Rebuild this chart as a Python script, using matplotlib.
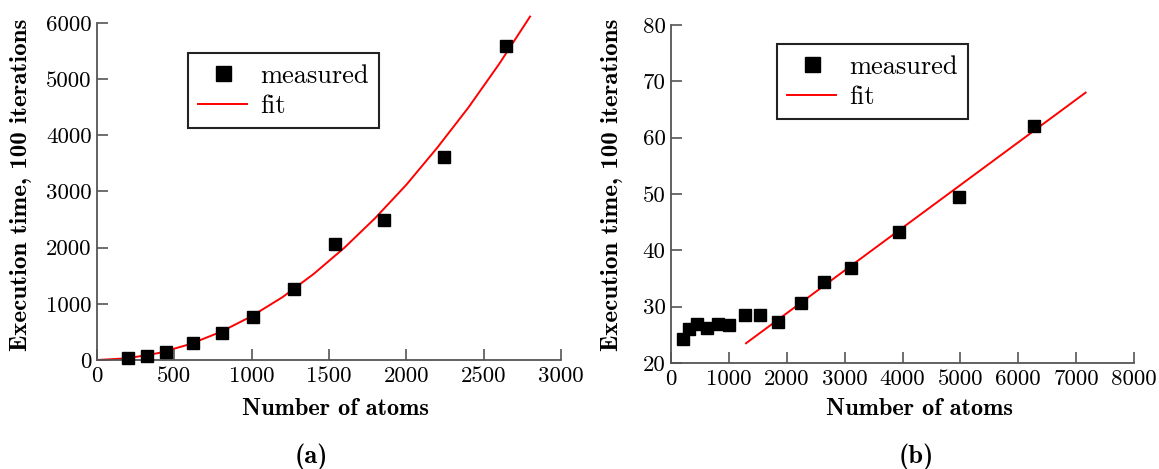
import matplotlib.pyplot as plt

# (a) measured points
atoms_a = [200, 323, 446, 621, 808, 1008, 1273, 1538, 1855, 2243, 2644]
time_a = [36, 71, 142, 303, 481, 766, 1264, 2065, 2492, 3614, 5590]
# (a) fit curve
fit_x_a = [0, 200, 400, 600, 800, 1000, 1200, 1400, 1600, 1800, 2000, 2200, 2400, 2600, 2800]
fit_y_a = [0, 31, 125, 281, 500, 780, 1120, 1530, 2000, 2530, 3120, 3780, 4490, 5270, 6115]

# (b) measured points
atoms_b = [202, 317, 444, 617, 806, 1008, 1273, 1538, 1849, 2241, 2643, 3115, 3934, 4981, 6266]
time_b = [24.2, 26.0, 26.9, 26.2, 26.9, 26.7, 28.5, 28.5, 27.3, 30.6, 34.4, 36.9, 43.3, 49.5, 62.1]
# (b) linear fit end points
fit_x_b = [1296, 7164]
fit_y_b = [23.5, 68.0]

xticks_a = [0, 500, 1000, 1500, 2000, 2500, 3000]
yticks_a = [0, 1000, 2000, 3000, 4000, 5000, 6000]
xticks_b = [0, 1000, 2000, 3000, 4000, 5000, 6000, 7000, 8000]
yticks_b = [20, 30, 40, 50, 60, 70, 80]

plt.rcParams['font.family'] = 'cmr10'
plt.rcParams['axes.formatter.use_mathtext'] = True

fig = plt.figure(figsize=(11.59, 4.69), dpi=100)
W, H = 1159, 469


def make_axes(left, right, bottom, top):
    return fig.add_axes([left / W, 1 - bottom / H, (right - left) / W, (bottom - top) / H])


ax1 = make_axes(97, 561, 360, 23)
ax2 = make_axes(671, 1134, 363, 25)

spine_col = '#555555'


def style(ax, xticks, yticks, xlab_pos, ylab_pos):
    for s in ['top', 'right']:
        ax.spines[s].set_visible(False)
    for s in ['left', 'bottom']:
        ax.spines[s].set_color(spine_col)
        ax.spines[s].set_linewidth(1.3)
    ax.set_xticks(xticks)
    ax.set_yticks(yticks)
    ax.set_xticklabels([str(t) for t in xticks])
    ax.set_yticklabels([str(t) for t in yticks])
    ax.set_xlim(xticks[0], xticks[-1])
    ax.set_ylim(yticks[0], yticks[-1])
    ax.tick_params(direction='in', length=8, width=1.2, color=spine_col,
                   labelsize=16.5)
    ax.tick_params(axis='x', pad=5)
    ax.tick_params(axis='y', pad=4)
    ax.set_xlabel('Number of atoms', family='cmb10', fontsize=17.5, va='center')
    ax.set_ylabel('Execution time, 100 iterations', family='cmb10', fontsize=18, va='center')
    ax.xaxis.set_label_coords(xlab_pos[0] / W, 1 - xlab_pos[1] / H, transform=fig.transFigure)
    ax.yaxis.set_label_coords(ylab_pos[0] / W, 1 - ylab_pos[1] / H, transform=fig.transFigure)


style(ax1, xticks_a, yticks_a, (336, 409), (21, 185))
style(ax2, xticks_b, yticks_b, (920, 409), (612, 185))

ax1.plot(fit_x_a, fit_y_a, color='red', lw=1.4, label='fit', clip_on=False, zorder=2)
ax1.plot(atoms_a, time_a, 's', color='black', ms=9, label='measured', clip_on=False, zorder=3)
ax2.plot(fit_x_b, fit_y_b, color='red', lw=1.4, label='fit', zorder=2)
ax2.plot(atoms_b, time_b, 's', color='black', ms=9, label='measured', clip_on=False, zorder=3)

for ax, anchor in [(ax1, (187.7, 53.3)), (ax2, (776.7, 44.3))]:
    h, l = ax.get_legend_handles_labels()
    leg = ax.legend(h[::-1], l[::-1], loc='upper left',
                    bbox_to_anchor=(anchor[0] / W, 1 - anchor[1] / H),
                    bbox_transform=fig.transFigure, fontsize=19,
                    fancybox=False, framealpha=1, edgecolor='#222222',
                    handlelength=1.86, handletextpad=0.48, borderpad=0.4,
                    borderaxespad=0, labelspacing=0.25, markerscale=1.2)
    leg.get_frame().set_linewidth(1.5)

fig.text(311 / W, 1 - 457 / H, '(a)', family='cmb10',
         fontsize=19, ha='center', va='center')
fig.text(916 / W, 1 - 457 / H, '(b)', family='cmb10',
         fontsize=19, ha='center', va='center')

fig.savefig('out.png', dpi=100)
